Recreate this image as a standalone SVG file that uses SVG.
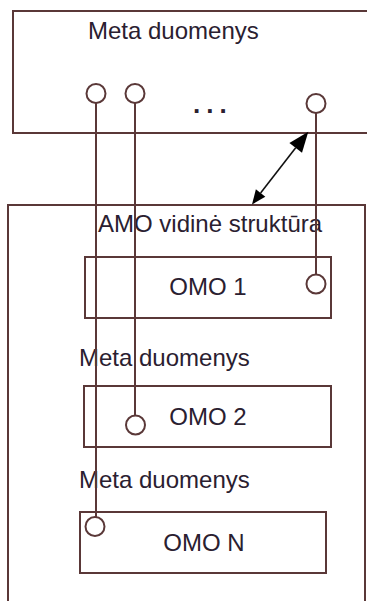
<svg xmlns="http://www.w3.org/2000/svg" width="367" height="601" viewBox="0 0 367 601">
<style>
.box{fill:none;stroke:#5a3838;stroke-width:2}
.wire{fill:none;stroke:#5a3838;stroke-width:2}
.port{fill:#fff;stroke:#5a3838;stroke-width:2}
.lbl{font-family:"Liberation Sans",Arial,sans-serif;font-size:24px;fill:#2a2030}
.c{text-anchor:middle}
</style>
<rect width="367" height="601" fill="#fff"/>
<g id="meta-top">
<rect class="box" x="13" y="11" width="370" height="122"/>
<text class="lbl" x="88" y="39">Meta duomenys</text>
<text class="lbl" x="193" y="113" style="font-weight:bold;letter-spacing:6px;font-size:26px">...</text>
</g>
<g id="amo">
<rect class="box" x="8" y="205" width="357" height="410"/>
<text class="lbl" x="98" y="232">AMO vidinė struktūra</text>
<text class="lbl" x="79" y="366">Meta duomenys</text>
<text class="lbl" x="79" y="488">Meta duomenys</text>
</g>
<g id="omo1">
<rect class="box" x="85" y="257" width="246" height="61"/>
<text class="lbl c" x="208" y="295">OMO 1</text>
</g>
<g id="omo2">
<rect class="box" x="84" y="386" width="247" height="61"/>
<text class="lbl c" x="208" y="425">OMO 2</text>
</g>
<g id="omon">
<rect class="box" x="80" y="512" width="246" height="61"/>
<text class="lbl c" x="204" y="551">OMO N</text>
</g>
<g id="connectors">
<line class="wire" x1="96" y1="103" x2="96" y2="517"/>
<line class="wire" x1="135" y1="103" x2="135" y2="415"/>
<line class="wire" x1="316" y1="113" x2="316" y2="274"/>
<line x1="260.6" y1="193" x2="295.7" y2="147.8" stroke="#111" stroke-width="1.6"/>
<polygon points="308.3,131.7 302,152.7 289.4,142.9" fill="#000"/>
<polygon points="252,204.5 265.3,196.7 255.9,189.3" fill="#000"/>
</g>
<g id="ports">
<circle class="port" cx="96" cy="93.5" r="9.5"/>
<circle class="port" cx="135" cy="93.5" r="9.5"/>
<circle class="port" cx="316" cy="103.5" r="9.5"/>
<circle class="port" cx="316" cy="284" r="9.5"/>
<circle class="port" cx="135.5" cy="425" r="9.5"/>
<circle class="port" cx="95" cy="526.5" r="9.5"/>
</g>
</svg>
